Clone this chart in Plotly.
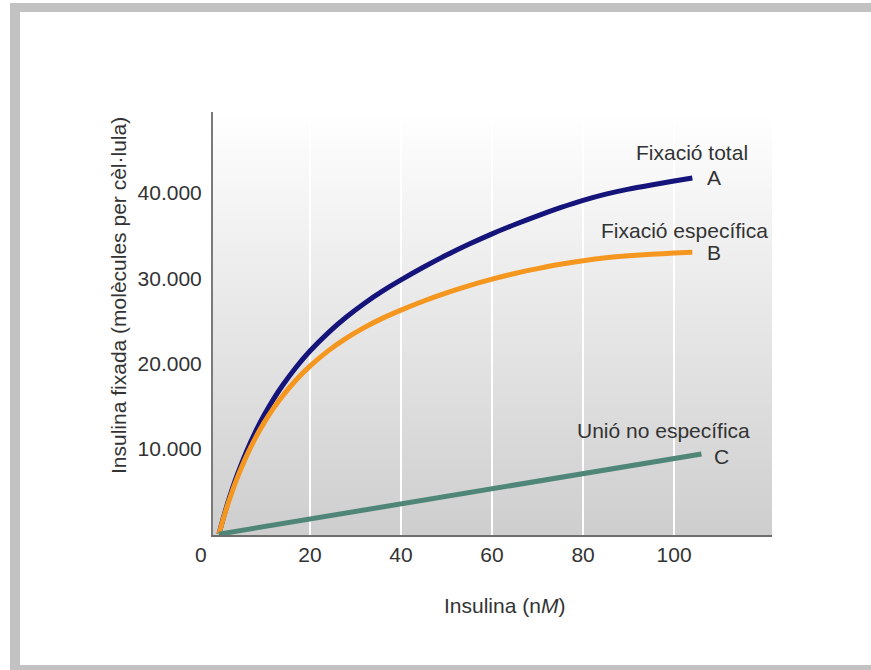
import plotly.graph_objects as go

# Insulin concentration (nM) and bound insulin (molecules per cell)
conc = [0, 1, 2, 3, 4, 6, 8, 10, 12, 14, 17, 20, 24, 28, 32, 36, 40,
        45, 50, 55, 60, 65, 70, 75, 80, 85, 90, 95, 100, 104]
total_binding = [0, 1970, 3760, 5410, 6920, 9620, 11970, 14020, 15840,
                 17460, 19600, 21470, 23610, 25460, 27080, 28520, 29810,
                 31320, 32720, 34010, 35210, 36310, 37330, 38280, 39140,
                 39870, 40460, 40950, 41410, 41770]
specific_binding = [0, 1880, 3580, 5140, 6570, 9090, 11260, 13130, 14780,
                    16220, 18100, 19700, 21490, 22980, 24250, 25330, 26270,
                    27340, 28290, 29140, 29900, 30560, 31130, 31640, 32060,
                    32400, 32640, 32820, 32960, 33050]
nonspecific_conc = [0, 106]
nonspecific_binding = [0, 9400]

x_ticks = [20, 40, 60, 80, 100]
y_ticks = [10000, 20000, 30000, 40000]
y_tick_text = ["10.000", "20.000", "30.000", "40.000"]

W, H = 871, 670
L, R, T, B = 213, 772, 112, 535
FONT = "Arial, Liberation Sans, sans-serif"
TXT = "#333333"
FS = 21


def px_x(p):
    return (p - L) / (R - L)


def px_y(p):
    return (B - p) / (B - T)


fig = go.Figure()

fig.add_trace(go.Scatter(x=conc, y=total_binding, mode="lines",
                         line=dict(color="#14147a", width=5, shape="spline", smoothing=0.6),
                         hoverinfo="skip", showlegend=False))
fig.add_trace(go.Scatter(x=conc, y=specific_binding, mode="lines",
                         line=dict(color="#f5961f", width=5, shape="spline", smoothing=0.6),
                         hoverinfo="skip", showlegend=False))
fig.add_trace(go.Scatter(x=nonspecific_conc, y=nonspecific_binding, mode="lines",
                         line=dict(color="#4f8677", width=5),
                         hoverinfo="skip", showlegend=False))

shapes = []
# vertical white-to-grey gradient behind the plot area
n_bands = 90
top_c, bot_c = (255, 255, 255), (206, 206, 206)
for i in range(n_bands):
    t = (i + 0.5) / n_bands
    c = [round(top_c[k] + (bot_c[k] - top_c[k]) * t) for k in range(3)]
    shapes.append(dict(type="rect", xref="paper", yref="paper",
                       x0=0, x1=1, y0=1 - (i + 1) / n_bands - 0.002, y1=1 - i / n_bands,
                       fillcolor=f"rgb({c[0]},{c[1]},{c[2]})", line=dict(width=0),
                       layer="below"))

# grey page frame
frame = "#c2c2c2"
for x0, x1, y0, y1 in [(10, 20, 3, 672), (10, W + 2, 3, 12), (10, W + 2, 665, 672)]:
    shapes.append(dict(type="rect", xref="paper", yref="paper",
                       x0=px_x(x0), x1=px_x(x1), y0=px_y(y1), y1=px_y(y0),
                       fillcolor=frame, line=dict(width=0), layer="above"))

ann_font = dict(family=FONT, size=FS, color=TXT)


def label(text, x, y, xref="x", yref="y", **kw):
    return dict(text=text, x=x, y=y, xref=xref, yref=yref, xanchor="center",
                yanchor="middle", showarrow=False, font=ann_font, **kw)


annotations = [
    label("Fixació total", 104.0, 44700),
    label("A", 108.8, total_binding[-1]),
    label("Fixació específica", 102.2, 35650),
    label("B", 108.7, specific_binding[-1]),
    label("Unió no específica", 97.6, 12100),
    label("C", 110.5, nonspecific_binding[-1] - 250),
    # zero label of the x axis, set left of the origin
    label("0", px_x(201), px_y(554), xref="paper", yref="paper"),
    label("Insulina fixada (molècules per cèl·lula)", px_x(118), px_y(296),
          xref="paper", yref="paper", textangle=-90),
    label("Insulina (n<i>M</i>)", px_x(504), px_y(605), xref="paper", yref="paper"),
]

fig.update_layout(
    width=W, height=H,
    margin=dict(l=L, r=W - R, t=T, b=H - B),
    paper_bgcolor="white",
    plot_bgcolor="rgba(0,0,0,0)",
    font=dict(family=FONT, size=FS, color=TXT),
    shapes=shapes,
    annotations=annotations,
    xaxis=dict(range=[-1.3, 121.5], tickvals=x_ticks, showgrid=True,
               gridcolor="white", gridwidth=1.5, zeroline=False,
               showline=True, linecolor="#6e6e6e", linewidth=2,
               ticks="", ticklabelstandoff=0,
               tickfont=dict(family=FONT, size=FS, color=TXT)),
    yaxis=dict(range=[-100, 49500], tickvals=y_ticks, ticktext=y_tick_text,
               showgrid=False, zeroline=False,
               showline=True, linecolor="#7a7a7a", linewidth=2,
               ticks="", ticklabelstandoff=5,
               tickfont=dict(family=FONT, size=FS, color=TXT)),
)

fig.write_html("out.html")
